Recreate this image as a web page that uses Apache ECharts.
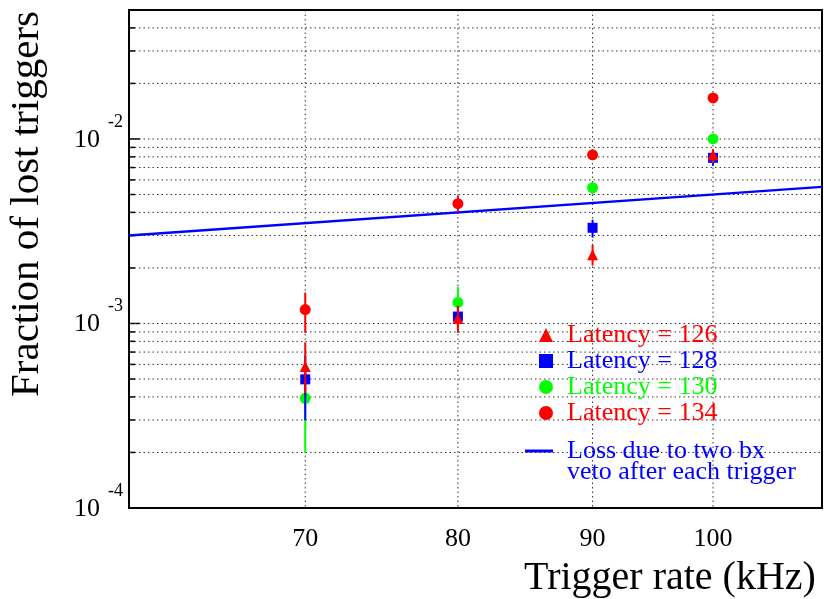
<!DOCTYPE html>
<html>
<head>
    <meta charset="utf-8">
    <title>Lost triggers</title>
    <script src="https://cdn.jsdelivr.net/npm/echarts@6/dist/echarts.min.js"></script>
    <style>
        html, body { margin: 0; padding: 0; background: #fff; }
    </style>
</head>
<body>
<div id="main" style="width: 824px;height:599px;"></div>
<script type="text/javascript">
    // trigger rates (kHz)
    var rates = [70, 80, 90, 100];

    // fraction of lost triggers, per latency, with error bar ends
    var lat126 = [5.85e-4, 1.065e-3, 2.36e-3, 8.2e-3];
    var lat126Lo = [4.2e-4, 8.9e-4, 2.06e-3, 7.4e-3];
    var lat126Hi = [7.9e-4, 1.25e-3, 2.67e-3, 8.8e-3];

    var lat128 = [4.98e-4, 1.09e-3, 3.3e-3, 7.9e-3];
    var lat128Lo = [2.99e-4, 9.6e-4, 2.92e-3, 7.15e-3];
    var lat128Hi = [6.7e-4, 1.24e-3, 3.65e-3, 8.7e-3];

    var lat130 = [3.93e-4, 1.30e-3, 5.44e-3, 1.0e-2];
    var lat130Lo = [1.98e-4, 1.06e-3, 5.04e-3, 9.4e-3];
    var lat130Hi = [5.4e-4, 1.58e-3, 5.86e-3, 1.06e-2];

    var lat134 = [1.19e-3, 4.46e-3, 8.2e-3, 1.67e-2];
    var lat134Lo = [8.9e-4, 4.03e-3, 7.7e-3, 1.57e-2];
    var lat134Hi = [1.47e-3, 4.92e-3, 8.7e-3, 1.77e-2];

    // two bx veto loss, end points of the line
    var vetoX = [60, 110];
    var vetoY = [3.0e-3, 5.5e-3];

    // ticks and grid
    var xTicks = [70, 80, 90, 100];
    var yMajor = [1e-4, 1e-3, 1e-2];
    var yMinor = [2e-4, 3e-4, 4e-4, 5e-4, 6e-4, 7e-4, 8e-4, 9e-4,
        2e-3, 3e-3, 4e-3, 5e-3, 6e-3, 7e-3, 8e-3, 9e-3,
        2e-2, 3e-2, 4e-2];

    var FONT = 'Liberation Serif';
    var RED = '#ff0000', BLUE = '#0000ff', GREEN = '#00ff00';
    var vetoName = 'Loss due to two bx\nveto after each trigger';
    var DOTS = [1.5, 3];

    var chartDom = document.getElementById('main');
    var myChart = echarts.init(chartDom, null, {renderer: 'canvas'});

    function pairs(xs, ys) {
        return xs.map(function (x, i) { return [x, ys[i]]; });
    }
    function bars(xs, lo, hi) {
        return xs.map(function (x, i) { return [x, lo[i], hi[i]]; });
    }
    function errSeries(data, color, z) {
        return {
            type: 'custom',
            silent: true,
            z: z,
            data: data,
            encode: {x: 0, y: [1, 2]},
            renderItem: function (params, api) {
                var a = api.coord([api.value(0), api.value(1)]);
                var b = api.coord([api.value(0), api.value(2)]);
                return {
                    type: 'line',
                    shape: {x1: a[0], y1: a[1], x2: b[0], y2: b[1]},
                    style: {stroke: color, lineWidth: 2}
                };
            }
        };
    }
    function pointSeries(name, data, symbol, size, color, z) {
        return {
            name: name,
            type: 'scatter',
            z: z,
            symbol: symbol,
            symbolSize: size,
            itemStyle: {color: color, opacity: 1},
            data: data
        };
    }

    // horizontal grid rows: [value, tick length]
    var yGrid = yMajor.map(function (v) { return [v, 11]; })
        .concat(yMinor.map(function (v) { return [v, 6]; }));
    var xGrid = xTicks.map(function (v) { return [v]; });

    var option = {
        animation: false,
        backgroundColor: '#fff',
        textStyle: {fontFamily: FONT},
        grid: {
            left: 129, right: 2, top: 10, bottom: 91,
            show: true, borderColor: '#000', borderWidth: 2,
            containLabel: false, outerBoundsMode: 'none'
        },
        legend: [{
            orient: 'vertical',
            left: 539, top: 322,
            padding: 0,
            itemWidth: 14, itemHeight: 14, itemGap: 0,
            selectedMode: false,
            textStyle: {fontFamily: FONT, fontSize: 26, lineHeight: 24.5, padding: [0, 0, 0, 9]},
            data: [
                {name: 'Latency = 126', textStyle: {color: RED}},
                {name: 'Latency = 128', textStyle: {color: BLUE}},
                {name: 'Latency = 130', textStyle: {color: GREEN}},
                {name: 'Latency = 134', textStyle: {color: RED}}
            ]
        }, {
            orient: 'vertical',
            left: 525, top: 417,
            padding: 0,
            itemWidth: 28, itemHeight: 3,
            selectedMode: false,
            formatter: function (name) { return ' \n' + name; },
            textStyle: {fontFamily: FONT, fontSize: 26, lineHeight: 21, padding: [0, 0, 0, 9]},
            data: [
                {name: vetoName, icon: 'rect', itemStyle: {color: BLUE},
                    textStyle: {color: BLUE}}
            ]
        }],
        xAxis: {
            type: 'log',
            logBase: 10,
            min: 60,
            max: 110,
            name: 'Trigger rate (kHz)',
            nameLocation: 'middle',
            nameGap: 50,
            nameTextStyle: {fontFamily: FONT, fontSize: 40, color: '#000', padding: [0, 0, 0, 389]},
            axisLine: {show: false},
            axisTick: {show: false},
            splitLine: {show: false},
            axisLabel: {
                customValues: xTicks,
                fontFamily: FONT, fontSize: 26, color: '#000', margin: 18
            }
        },
        yAxis: {
            type: 'log',
            logBase: 10,
            min: 1e-4,
            max: 0.05,
            name: 'Fraction of lost triggers',
            nameLocation: 'middle',
            nameRotate: 90,
            nameGap: 81,
            nameTextStyle: {fontFamily: FONT, fontSize: 41, color: '#000', padding: [0, 0, 0, 110]},
            axisLine: {show: false},
            splitLine: {show: false},
            axisTick: {show: false},
            axisLabel: {
                customValues: yMajor,
                margin: 6,
                padding: [30, 0, 0, 0],
                formatter: function (v) {
                    var e = Math.round(Math.log(v) / Math.LN10);
                    return '{b|10}{e|' + e + '}';
                },
                rich: {
                    b: {fontFamily: FONT, fontSize: 26, lineHeight: 26, color: '#000',
                        verticalAlign: 'bottom', padding: [0, 0, 14, 0]},
                    e: {fontFamily: FONT, fontSize: 18, lineHeight: 18, color: '#000',
                        verticalAlign: 'bottom', padding: [0, 0, 36, 8]}
                }
            }
        },
        series: [
            {
                // horizontal dotted grid lines and left axis ticks
                type: 'custom',
                silent: true,
                z: 1,
                data: yGrid,
                encode: {y: 0},
                renderItem: function (params, api) {
                    var cs = params.coordSys;
                    var y = api.coord([vetoX[0], api.value(0)])[1];
                    var len = api.value(1);
                    var children = [{
                        type: 'line',
                        shape: {x1: cs.x, y1: y, x2: cs.x + len, y2: y},
                        style: {stroke: '#000', lineWidth: 1.5}
                    }];
                    if (y < cs.y + cs.height - 2) {
                        children.push({
                            type: 'line',
                            shape: {x1: cs.x + 1, y1: y, x2: cs.x + cs.width, y2: y},
                            style: {stroke: '#333', lineWidth: 1, lineDash: DOTS}
                        });
                    }
                    return {type: 'group', children: children};
                }
            },
            {
                // vertical dotted grid lines
                type: 'custom',
                silent: true,
                z: 1,
                data: xGrid,
                encode: {x: 0},
                renderItem: function (params, api) {
                    var cs = params.coordSys;
                    var x = api.coord([api.value(0), yMajor[0]])[0];
                    return {
                        type: 'line',
                        shape: {x1: x, y1: cs.y, x2: x, y2: cs.y + cs.height},
                        style: {stroke: '#333', lineWidth: 1, lineDash: DOTS}
                    };
                }
            },
            {
                name: vetoName,
                type: 'line',
                z: 3,
                symbol: 'none',
                showSymbol: false,
                color: BLUE,
                lineStyle: {color: BLUE, width: 2.5},
                data: pairs(vetoX, vetoY)
            },
            errSeries(bars(rates, lat134Lo, lat134Hi), RED, 4),
            pointSeries('Latency = 134', pairs(rates, lat134), 'circle', 11, RED, 5),
            errSeries(bars(rates, lat130Lo, lat130Hi), GREEN, 6),
            pointSeries('Latency = 130', pairs(rates, lat130), 'circle', 11, GREEN, 7),
            errSeries(bars(rates, lat128Lo, lat128Hi), BLUE, 8),
            pointSeries('Latency = 128', pairs(rates, lat128), 'rect', 10, BLUE, 9),
            errSeries(bars(rates, lat126Lo, lat126Hi), RED, 10),
            pointSeries('Latency = 126', pairs(rates, lat126), 'triangle', 11, RED, 11)
        ]
    };

    if (option && typeof option === 'object') {
        myChart.setOption(option);
    }
</script>
</body>
</html>
